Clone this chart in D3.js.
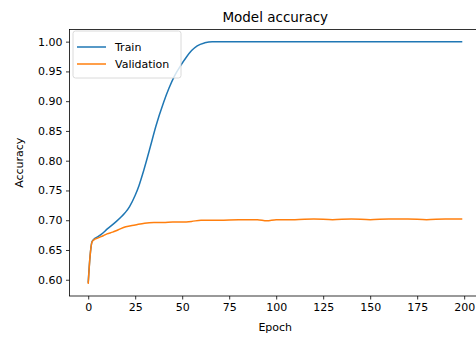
<!DOCTYPE html>
<html>
<head>
<meta charset="utf-8">
<script src="https://cdn.jsdelivr.net/npm/d3@7"></script>
<style>
    body { margin: 0; background: #fff; }
    text { font-family: "DejaVu Sans", sans-serif; fill: #000; }
</style>
</head>
<body>
<div id="chart"></div>
<script>
// values (epoch, accuracy)
var trainEpochs = [0, 1, 2, 3, 5, 8, 10, 12, 15, 18, 20, 22, 25, 27, 29, 31, 33, 36, 40, 43, 46, 49, 52, 55, 58, 62, 66, 75, 100, 125, 150, 175, 199];
var trainAcc = [0.595, 0.640, 0.664, 0.668, 0.672, 0.679, 0.685, 0.690, 0.698, 0.707, 0.714, 0.723, 0.742, 0.758, 0.778, 0.800, 0.823, 0.858, 0.897, 0.922, 0.943, 0.959, 0.973, 0.985, 0.993, 0.998, 1.000, 1.000, 1.000, 1.000, 1.000, 1.000, 1.000];

var valEpochs = [0, 1, 2, 3, 5, 8, 10, 13, 16, 20, 25, 30, 35, 40, 45, 50, 55, 60, 65, 70, 80, 90, 95, 100, 110, 120, 130, 140, 150, 160, 170, 180, 190, 199];
var valAcc = [0.593, 0.640, 0.663, 0.667, 0.670, 0.674, 0.677, 0.680, 0.684, 0.689, 0.692, 0.695, 0.696, 0.696, 0.697, 0.697, 0.698, 0.700, 0.700, 0.700, 0.701, 0.701, 0.699, 0.701, 0.701, 0.702, 0.701, 0.702, 0.701, 0.702, 0.702, 0.701, 0.702, 0.702];

var xTicks = [0, 25, 50, 75, 100, 125, 150, 175, 200];
var yTicks = [0.60, 0.65, 0.70, 0.75, 0.80, 0.85, 0.90, 0.95, 1.00];
var seriesNames = ['Train', 'Validation'];
var seriesColors = ['#1f77b4', '#ff7f0e'];

var width = 476, height = 337;
var margin = {left: 69.5, right: -5, top: 29.5, bottom: 41};

var svg = d3.select('#chart').append('svg')
    .attr('width', width).attr('height', height);

var x = d3.scaleLinear().domain([-9.95, 208.95]).range([margin.left, width - margin.right]);
var y = d3.scaleLinear().domain([0.5727, 1.0204]).range([height - margin.bottom, margin.top]);

// frame
svg.append('rect')
    .attr('x', x.range()[0]).attr('y', y.range()[1])
    .attr('width', x.range()[1] - x.range()[0])
    .attr('height', y.range()[0] - y.range()[1])
    .attr('fill', 'none').attr('stroke', '#000').attr('stroke-width', 0.8);

var xAxis = svg.append('g')
    .attr('transform', 'translate(0,' + y.range()[0] + ')')
    .call(d3.axisBottom(x).tickValues(xTicks).tickSize(3.5).tickPadding(3.5));
var yAxis = svg.append('g')
    .attr('transform', 'translate(' + x.range()[0] + ',0)')
    .call(d3.axisLeft(y).tickValues(yTicks).tickFormat(d3.format('.2f')).tickSize(3.5).tickPadding(3.5));
[xAxis, yAxis].forEach(function (ax) {
    ax.select('.domain').remove();
    ax.selectAll('line').attr('stroke', '#000').attr('stroke-width', 0.8);
    ax.selectAll('text').style('font-family', '"DejaVu Sans", sans-serif').style('font-size', '11px').attr('fill', '#000');
});

var line = d3.line()
    .curve(d3.curveMonotoneX)
    .x(function (d) { return x(d[0]); })
    .y(function (d) { return y(d[1]); });

var series = [d3.zip(trainEpochs, trainAcc), d3.zip(valEpochs, valAcc)];
series.forEach(function (pts, i) {
    svg.append('path')
        .datum(pts)
        .attr('d', line)
        .attr('fill', 'none')
        .attr('stroke', seriesColors[i])
        .attr('stroke-width', 1.5)
        .attr('stroke-linejoin', 'round');
});

// title + labels
svg.append('text').attr('x', (x.range()[0] + x.range()[1]) / 2).attr('y', 22)
    .attr('text-anchor', 'middle').style('font-size', '13.5px').text('Model accuracy');
svg.append('text').attr('x', (x.range()[0] + x.range()[1]) / 2).attr('y', 331)
    .attr('text-anchor', 'middle').style('font-size', '11px').text('Epoch');
svg.append('text')
    .attr('transform', 'translate(23,' + ((y.range()[0] + y.range()[1]) / 2) + ') rotate(-90)')
    .attr('text-anchor', 'middle').style('font-size', '11px').text('Accuracy');

// legend
var legend = svg.append('g').attr('transform', 'translate(73,31)');
legend.append('rect')
    .attr('width', 108).attr('height', 47).attr('rx', 2.5)
    .attr('fill', '#fff').attr('fill-opacity', 0.8)
    .attr('stroke', '#d0d0d0').attr('stroke-width', 0.8);
seriesNames.forEach(function (name, i) {
    var g = legend.append('g').attr('transform', 'translate(0,' + (16 + i * 17) + ')');
    g.append('line').attr('x1', 4).attr('x2', 33).attr('y1', 0).attr('y2', 0)
        .attr('stroke', seriesColors[i]).attr('stroke-width', 1.5);
    g.append('text').attr('x', 42).attr('y', 4).style('font-size', '11px').text(name);
});
</script>
</body>
</html>
